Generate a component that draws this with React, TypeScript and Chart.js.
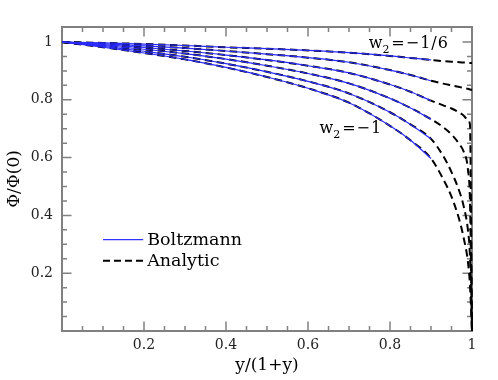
import React, { useEffect, useRef } from 'react';
import { Chart, registerables } from 'chart.js';

Chart.register(...registerables);

// x = y/(1+y)
const X_BOLTZ = [0, 0.1, 0.2, 0.3, 0.4, 0.5, 0.6, 0.7, 0.8, 0.85, 0.9];
const X_TAIL = [0.93, 0.95, 0.97, 0.98, 0.99, 0.995, 1.0];

const W_LABELS = ['-1/6', '-1/3', '-1/2', '-2/3', '-5/6', '-1'];

// Phi/Phi(0) along X_BOLTZ (shared by both methods)
const PHI_W16 = [1, 0.997, 0.993, 0.988, 0.982, 0.977, 0.971, 0.963, 0.952, 0.945, 0.938];
const PHI_W13 = [1, 0.994, 0.987, 0.979, 0.969, 0.958, 0.946, 0.93, 0.903, 0.886, 0.866];
const PHI_W12 = [1, 0.991, 0.981, 0.969, 0.955, 0.938, 0.918, 0.893, 0.853, 0.828, 0.797];
const PHI_W23 = [1, 0.988, 0.975, 0.96, 0.941, 0.918, 0.891, 0.857, 0.805, 0.772, 0.733];
const PHI_W56 = [1, 0.985, 0.968, 0.949, 0.925, 0.897, 0.864, 0.822, 0.757, 0.715, 0.665];
const PHI_W1 = [1, 0.982, 0.962, 0.94, 0.912, 0.879, 0.84, 0.79, 0.71, 0.66, 0.597];

// analytic continuation along X_TAIL
const TAIL_W16 = [0.934, 0.932, 0.93, 0.929, 0.928, 0.927, 0.927];
const TAIL_W13 = [0.856, 0.85, 0.844, 0.841, 0.838, 0.836, 0.834];
const TAIL_W12 = [0.781, 0.77, 0.755, 0.745, 0.73, 0.715, 0.0];
const TAIL_W23 = [0.705, 0.68, 0.645, 0.62, 0.56, 0.45, 0.0];
const TAIL_W56 = [0.605, 0.55, 0.48, 0.43, 0.35, 0.26, 0.0];
const TAIL_W1 = [0.525, 0.465, 0.38, 0.32, 0.24, 0.16, 0.0];

const BOLTZ = [PHI_W16, PHI_W13, PHI_W12, PHI_W23, PHI_W56, PHI_W1];
const TAILS = [TAIL_W16, TAIL_W13, TAIL_W12, TAIL_W23, TAIL_W56, TAIL_W1];

const X_TICKS = [0, 0.2, 0.4, 0.6, 0.8, 1];
const Y_TICKS = [0, 0.2, 0.4, 0.6, 0.8, 1];
const MINOR_STEP = 0.05;

const FONT = 'DejaVu Serif';
const AXIS_COLOR = '#808080';

const fmt = (v: number) => (v === 0 ? '' : String(+v.toFixed(2)));

const decorPlugin = {
  id: 'decor',
  beforeDatasetsDraw(chart: any) {
    const { ctx, chartArea: a, scales } = chart;
    const xs = scales.x;
    const ys = scales.y;
    ctx.save();
    ctx.strokeStyle = AXIS_COLOR;
    ctx.lineWidth = 1.5;
    ctx.beginPath();
    for (let i = 1; i < 20; i++) {
      const v = i * MINOR_STEP;
      const major = i % 4 === 0;
      const len = major ? 9.5 : 5;
      const px = xs.getPixelForValue(v);
      ctx.moveTo(px, a.bottom);
      ctx.lineTo(px, a.bottom - len);
      ctx.moveTo(px, a.top);
      ctx.lineTo(px, a.top + len);
    }
    for (let i = 1; i < 21; i++) {
      const v = i * MINOR_STEP;
      const major = i % 4 === 0;
      const len = major ? 9.5 : 5;
      const py = ys.getPixelForValue(v);
      ctx.moveTo(a.left, py);
      ctx.lineTo(a.left + len, py);
      ctx.moveTo(a.right, py);
      ctx.lineTo(a.right - len, py);
    }
    ctx.stroke();
    ctx.lineWidth = 2;
    ctx.strokeRect(a.left, a.top, a.right - a.left, a.bottom - a.top);
    ctx.restore();
  },
  afterDraw(chart: any) {
    const { ctx, scales } = chart;
    const xs = scales.x;
    const ys = scales.y;
    ctx.save();
    // legend
    const lx0 = xs.getPixelForValue(0.1);
    const lx1 = xs.getPixelForValue(0.198);
    const yB = ys.getPixelForValue(0.316);
    const yA = ys.getPixelForValue(0.243);
    ctx.strokeStyle = '#3333ff';
    ctx.lineWidth = 1.2;
    ctx.beginPath();
    ctx.moveTo(lx0, yB);
    ctx.lineTo(lx1, yB);
    ctx.stroke();
    ctx.strokeStyle = '#000';
    ctx.lineWidth = 2;
    ctx.setLineDash([7, 4]);
    ctx.beginPath();
    ctx.moveTo(lx0, yA);
    ctx.lineTo(lx1, yA);
    ctx.stroke();
    ctx.setLineDash([]);
    ctx.fillStyle = '#000';
    ctx.font = `17.5px "${FONT}"`;
    ctx.textBaseline = 'middle';
    ctx.textAlign = 'left';
    ctx.fillText('Boltzmann', lx1 + 4, yB + 1);
    ctx.fillText('Analytic', lx1 + 4, yA + 1);

    // curve labels
    const drawW = (xv: number, yv: number, rest: string) => {
      const px = xs.getPixelForValue(xv);
      const py = ys.getPixelForValue(yv);
      ctx.textBaseline = 'alphabetic';
      ctx.font = `16px "${FONT}"`;
      ctx.fillText('w', px, py);
      const ww = ctx.measureText('w').width;
      ctx.font = `11px "${FONT}"`;
      ctx.fillText('2', px + ww, py + 5);
      const sw = ctx.measureText('2').width;
      ctx.font = `16px "${FONT}"`;
      (ctx as any).letterSpacing = '1px';
      ctx.fillText(rest, px + ww + sw + 2, py);
      (ctx as any).letterSpacing = '0px';
    };
    drawW(0.748, 0.978, '=\u2212' + W_LABELS[0].slice(1));
    drawW(0.628, 0.685, '=\u2212' + W_LABELS[5].slice(1));
    ctx.restore();
  },
};

export default function App() {
  const ref = useRef<HTMLCanvasElement>(null);
  useEffect(() => {
    if (!ref.current) return;
    const datasets: any[] = [];
    BOLTZ.forEach((vals, i) => {
      datasets.push({
        label: 'Boltzmann w2=' + W_LABELS[i],
        data: X_BOLTZ.map((x, j) => ({ x, y: vals[j] })),
        borderColor: '#2a2aff',
        borderWidth: 1.2,
        pointRadius: 0,
        cubicInterpolationMode: 'monotone',
        order: 0,
        clip: 4,
      });
    });
    BOLTZ.forEach((vals, i) => {
      const xsAll = X_BOLTZ.concat(X_TAIL);
      const ysAll = vals.concat(TAILS[i]);
      datasets.push({
        label: 'Analytic w2=' + W_LABELS[i],
        data: xsAll.map((x, j) => ({ x, y: ysAll[j] })),
        borderColor: '#000',
        borderWidth: 2,
        borderDash: [7.5, 4.5],
        pointRadius: 0,
        cubicInterpolationMode: 'monotone',
        order: 1,
        clip: 4,
      });
    });
    const chart = new Chart(ref.current, {
      type: 'line',
      data: { datasets },
      options: {
        responsive: false,
        animation: false,
        layout: { padding: { top: 27, right: 26, left: 0, bottom: 0 } },
        plugins: { legend: { display: false }, tooltip: { enabled: false } },
        scales: {
          x: {
            type: 'linear',
            min: 0,
            max: 1,
            grid: { display: false, drawTicks: false },
            border: { display: false },
            afterBuildTicks: (s: any) => {
              s.ticks = X_TICKS.map((v) => ({ value: v }));
            },
            ticks: {
              callback: (v: any) => fmt(Number(v)),
              font: { family: FONT, size: 14 },
              color: '#222',
              padding: 6,
              maxRotation: 0,
              autoSkip: false,
            },
            title: {
              display: true,
              text: 'y/(1+y)',
              font: { family: FONT, size: 17 },
              color: '#000',
              padding: { top: 0, bottom: 4 },
            },
            afterFit: (s: any) => {
              s.height = 49;
            },
          },
          y: {
            type: 'linear',
            min: 0,
            max: 1.052,
            grid: { display: false, drawTicks: false },
            border: { display: false },
            afterBuildTicks: (s: any) => {
              s.ticks = Y_TICKS.map((v) => ({ value: v }));
            },
            ticks: {
              callback: (v: any) => fmt(Number(v)),
              font: { family: FONT, size: 14 },
              color: '#222',
              padding: 9,
              autoSkip: false,
            },
            title: {
              display: true,
              text: '\u03A6/\u03A6(0)',
              font: { family: FONT, size: 17 },
              color: '#000',
              padding: { top: 4, bottom: 0 },
            },
            afterFit: (s: any) => {
              s.width = 62;
            },
          },
        },
      } as any,
      plugins: [decorPlugin],
    });
    return () => chart.destroy();
  }, []);
  return (
    <div style={{ position: 'fixed', left: 0, top: 0, width: 498, height: 380, background: '#fff' }}>
      <canvas ref={ref} width={498} height={380} style={{ display: 'block' }} />
    </div>
  );
}
